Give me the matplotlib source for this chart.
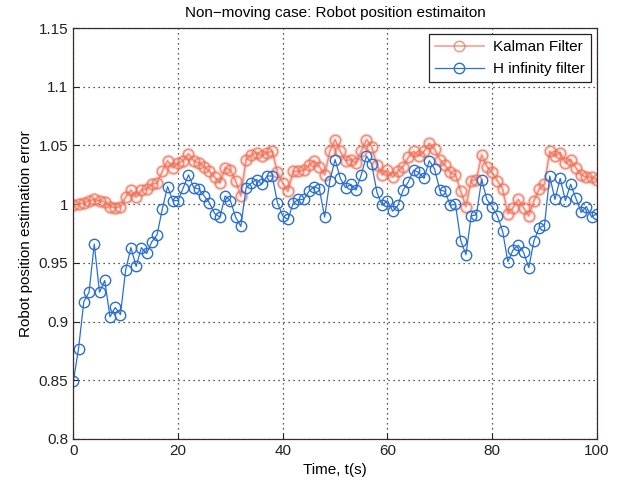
import numpy as np
import matplotlib
matplotlib.use('Agg')
import matplotlib.pyplot as plt

plt.rcParams['font.family'] = ['Liberation Sans', 'DejaVu Sans']

t = np.arange(0, 101)

kalman = [0.999, 1.000, 1.001, 1.003, 1.004, 1.003, 1.002, 0.998, 0.997, 0.998,
          1.006, 1.012, 1.006, 1.012, 1.013, 1.017, 1.018, 1.028, 1.037, 1.031,
          1.035, 1.037, 1.043, 1.037, 1.035, 1.032, 1.028, 1.023, 1.018, 1.031,
          1.029, 1.020, 1.007, 1.038, 1.042, 1.044, 1.041, 1.044, 1.045, 1.027,
          1.018, 1.011, 1.028, 1.028, 1.029, 1.033, 1.037, 1.032, 1.025, 1.045,
          1.055, 1.045, 1.037, 1.038, 1.035, 1.045, 1.055, 1.049, 1.033, 1.025,
          1.029, 1.023, 1.028, 1.032, 1.040, 1.045, 1.041, 1.045, 1.052, 1.047,
          1.038, 1.033, 1.027, 1.025, 1.011, 0.998, 1.020, 1.021, 1.042, 1.032,
          1.027, 1.020, 1.013, 0.992, 0.997, 1.004, 0.997, 0.990, 1.003, 1.013,
          1.017, 1.045, 1.041, 1.044, 1.035, 1.038, 1.031, 1.025, 1.023, 1.023,
          1.021]

hinf = [0.849, 0.877, 0.917, 0.925, 0.966, 0.925, 0.935, 0.904, 0.912, 0.906,
        0.944, 0.963, 0.947, 0.963, 0.958, 0.968, 0.974, 0.996, 1.015, 1.003,
        1.003, 1.014, 1.025, 1.014, 1.013, 1.007, 1.001, 0.992, 0.989, 1.007,
        1.003, 0.989, 0.981, 1.014, 1.018, 1.021, 1.017, 1.024, 1.024, 1.001,
        0.990, 0.987, 1.001, 1.004, 1.004, 1.011, 1.015, 1.013, 0.989, 1.020,
        1.038, 1.022, 1.014, 1.017, 1.012, 1.025, 1.041, 1.034, 1.010, 0.999,
        1.003, 0.994, 0.999, 1.012, 1.019, 1.029, 1.027, 1.022, 1.037, 1.030,
        1.012, 1.011, 0.999, 1.000, 0.969, 0.957, 0.990, 0.991, 1.021, 1.004,
        0.998, 0.990, 0.977, 0.951, 0.961, 0.965, 0.959, 0.946, 0.969, 0.980,
        0.982, 1.024, 1.004, 1.022, 1.003, 1.017, 1.005, 0.993, 0.998, 0.989,
        0.992]

yticks = [0.8, 0.85, 0.9, 0.95, 1.0, 1.05, 1.1, 1.15]
ytick_labels = ['0.8', '0.85', '0.9', '0.95', '1', '1.05', '1.1', '1.15']
xticks = [0, 20, 40, 60, 80, 100]

fig = plt.figure(figsize=(6.23, 4.84), dpi=100)
ax = fig.add_axes([0.1177, 0.093, 0.8403, 0.849])

# the Kalman curve is drawn soft: a wide faint stroke under a thinner one
ax.plot(t, kalman, '-o', color='#f27a62', alpha=0.25, lw=2.6, ms=7.5,
        mfc='none', mew=2.6)
ax.plot(t, kalman, '-o', color='#f06e55', alpha=0.7, lw=1.1, ms=7.5,
        mfc='none', mew=1.1, label='Kalman Filter')
ax.plot(t, hinf, '-o', color='#2a6fd4', lw=0.9, ms=7.5,
        mfc='none', mew=1.0, label='H infinity filter')

ax.set_xlim(0, 100)
ax.set_ylim(0.8, 1.15)
ax.set_xticks(xticks)
ax.set_yticks(yticks)
ax.set_yticklabels(ytick_labels)
ax.tick_params(direction='in', length=4, labelsize=11, colors='#222222')
ax.grid(True, color='#222222', linestyle=(0, (1, 3)), linewidth=0.9)
for s in ax.spines.values():
    s.set_color('#3a2a2a')
    s.set_linewidth(0.9)

ax.set_title('Non\u2212moving case: Robot position estimaiton', fontsize=11, pad=8)
ax.set_xlabel('Time, t(s)', fontsize=11, labelpad=4)
ax.set_ylabel('Robot position estimation error', fontsize=11)

leg = ax.legend(loc='upper right', fontsize=11, fancybox=False, framealpha=1,
                edgecolor='#222222', borderaxespad=0.4, handlelength=3.2,
                handletextpad=0.6)
leg.get_frame().set_linewidth(0.9)

fig.savefig('out.png', dpi=100)
